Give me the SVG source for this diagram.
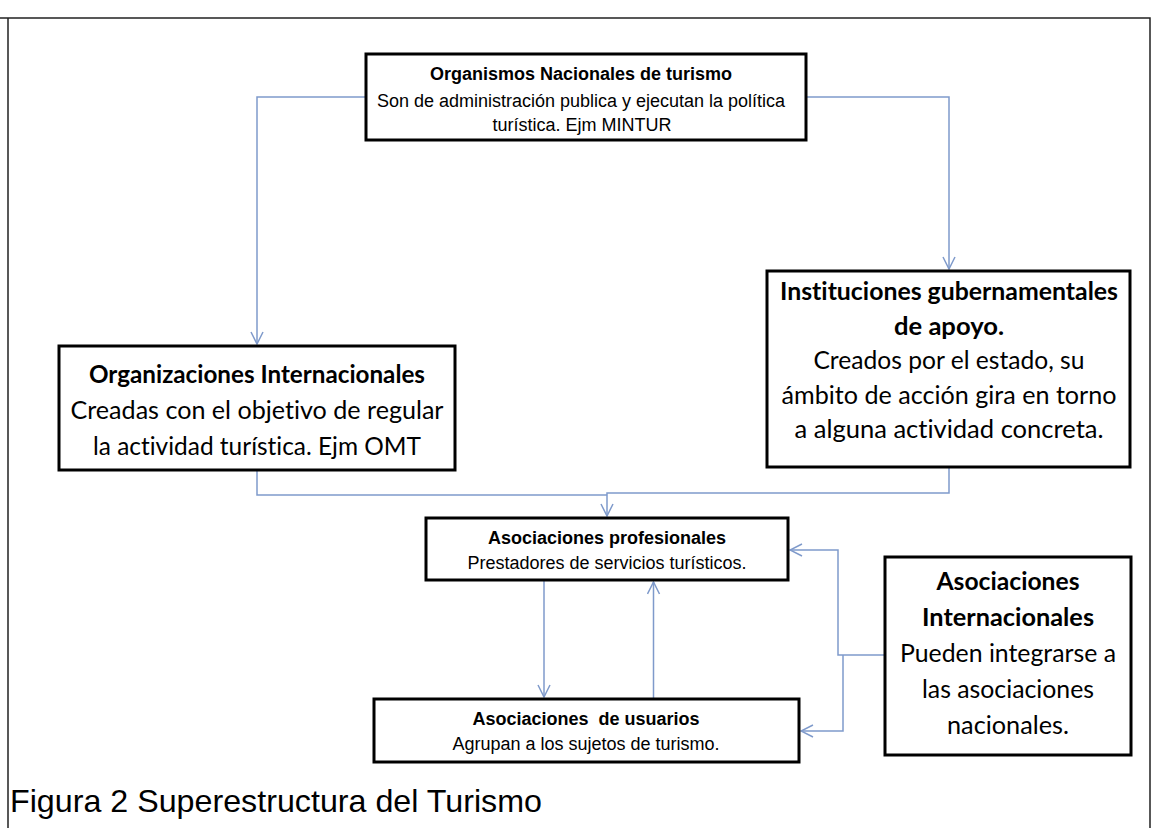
<svg xmlns="http://www.w3.org/2000/svg" width="1151" height="828" viewBox="0 0 1151 828">
<defs>
<style>
.box{fill:#fff;stroke:#000;stroke-width:3}
.con{fill:none;stroke:#7f9acb;stroke-width:1.5}
.ar{font-family:"Liberation Sans",Arial,sans-serif;font-size:18px;fill:#000;text-anchor:middle}
.cal{font-family:Lato,"Open Sans",sans-serif;font-size:24.5px;fill:#000;text-anchor:middle;font-variant-ligatures:none}
.b{font-weight:bold}
.frame{fill:none;stroke:#222;stroke-width:1.5}
</style>
<marker id="arr" markerUnits="userSpaceOnUse" markerWidth="14" markerHeight="14" refX="13" refY="7" orient="auto">
<path d="M1,1 L13,7 L1,13" fill="none" stroke="#7f9acb" stroke-width="1.5"/>
</marker>
</defs>
<rect width="1151" height="828" fill="#fff"/>
<path class="frame" d="M0,18 H1150 V828 M8,18 V828"/>

<g id="connectors">
<path class="con" d="M366,97 H257 V344" marker-end="url(#arr)"/>
<path class="con" d="M806,97 H949 V269" marker-end="url(#arr)"/>
<path class="con" d="M257,470 V495 H607"/>
<path class="con" d="M949,467 V493 H607 V516" marker-end="url(#arr)"/>
<path class="con" d="M544,580 V697" marker-end="url(#arr)"/>
<path class="con" d="M653.5,699 V582" marker-end="url(#arr)"/>
<path class="con" d="M885,655 H838 V550 H790" marker-end="url(#arr)"/>
<path class="con" d="M843,655 V731 H801" marker-end="url(#arr)"/>
</g>

<g id="n-organismos">
<rect class="box" x="366" y="54" width="440" height="86"/>
<text class="ar b" x="581" y="79.5">Organismos Nacionales de turismo</text>
<text class="ar" x="581" y="107">Son de administración publica y ejecutan la política</text>
<text class="ar" x="582" y="131">turística. Ejm MINTUR</text>
</g>

<g id="n-org-internacionales">
<rect class="box" x="59" y="346" width="396" height="124"/>
<text class="cal b" x="257" y="383" textLength="336" lengthAdjust="spacingAndGlyphs">Organizaciones Internacionales</text>
<text class="cal" x="257" y="419" textLength="373" lengthAdjust="spacingAndGlyphs">Creadas con el objetivo de regular</text>
<text class="cal" x="257" y="455" textLength="328" lengthAdjust="spacingAndGlyphs">la actividad turística. Ejm OMT</text>
</g>

<g id="n-instituciones">
<rect class="box" x="767" y="271" width="363" height="196"/>
<text class="cal b" x="949" y="300" textLength="338" lengthAdjust="spacingAndGlyphs">Instituciones gubernamentales</text>
<text class="cal b" x="949" y="334.5" textLength="110" lengthAdjust="spacingAndGlyphs">de apoyo.</text>
<text class="cal" x="949" y="369" textLength="271" lengthAdjust="spacingAndGlyphs">Creados por el estado, su</text>
<text class="cal" x="949" y="403.5" textLength="335" lengthAdjust="spacingAndGlyphs">ámbito de acción gira en torno</text>
<text class="cal" x="949" y="438" textLength="309" lengthAdjust="spacingAndGlyphs">a alguna actividad concreta.</text>
</g>

<g id="n-asoc-profesionales">
<rect class="box" x="426" y="518" width="362" height="62"/>
<text class="ar b" x="607" y="543.5">Asociaciones profesionales</text>
<text class="ar" x="607" y="569">Prestadores de servicios turísticos.</text>
</g>

<g id="n-asoc-usuarios">
<rect class="box" x="374" y="699" width="425" height="63"/>
<text class="ar b" x="586" y="725" xml:space="preserve">Asociaciones  de usuarios</text>
<text class="ar" x="586" y="750">Agrupan a los sujetos de turismo.</text>
</g>

<g id="n-asoc-internacionales">
<rect class="box" x="885" y="557" width="246" height="198"/>
<text class="cal b" x="1008" y="590" textLength="143" lengthAdjust="spacingAndGlyphs">Asociaciones</text>
<text class="cal b" x="1008" y="626" textLength="172" lengthAdjust="spacingAndGlyphs">Internacionales</text>
<text class="cal" x="1008" y="662" textLength="216" lengthAdjust="spacingAndGlyphs">Pueden integrarse a</text>
<text class="cal" x="1008" y="698" textLength="172" lengthAdjust="spacingAndGlyphs">las asociaciones</text>
<text class="cal" x="1008" y="734" textLength="122" lengthAdjust="spacingAndGlyphs">nacionales.</text>
</g>

<text id="caption" x="10" y="812" font-family="'Liberation Sans',Arial,sans-serif" font-size="32" fill="#000" textLength="532" lengthAdjust="spacingAndGlyphs">Figura 2 Superestructura del Turismo</text>
</svg>
